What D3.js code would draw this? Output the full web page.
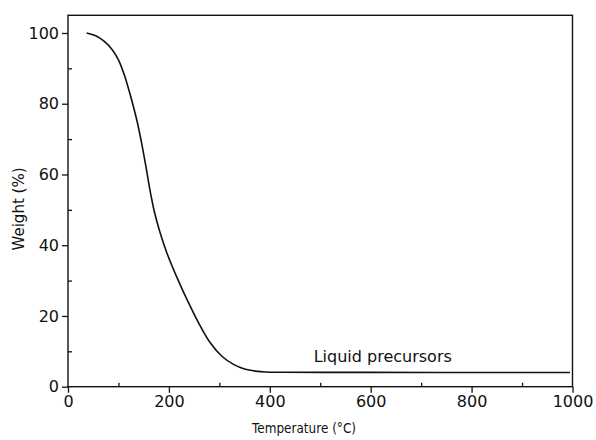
<!DOCTYPE html>
<html>
<head>
<meta charset="utf-8">
<script src="https://cdn.jsdelivr.net/npm/d3@7"></script>
<style>
  html, body { margin: 0; padding: 0; background: #fff; }
  svg { display: block; }
  text { font-family: "DejaVu Sans", sans-serif; fill: #111; }
</style>
</head>
<body>
<svg id="chart" width="596" height="440"></svg>
<script>
// Data (TGA curve)
const temperatures = [37, 55, 72, 88, 100, 112, 124, 136, 146, 155, 163, 171, 182, 196, 215, 240, 262, 282, 305, 328, 350, 372, 392, 430, 500, 600, 800, 995];
const weights      = [100, 99.2, 97.6, 95.2, 92.4, 88.0, 82.2, 75.6, 68.8, 61.8, 55.2, 49.6, 43.8, 37.8, 31.2, 23.4, 17.2, 12.4, 8.6, 6.3, 5.0, 4.4, 4.15, 4.1, 4.05, 4.05, 4.0, 4.0];
const xMajorTicks = [0, 200, 400, 600, 800, 1000];
const xMinorTicks = [100, 300, 500, 700, 900];
const yMajorTicks = [0, 20, 40, 60, 80, 100];
const yMinorTicks = [10, 30, 50, 70, 90];
const xLabel = "Temperature (\u00B0C)";
const yLabel = "Weight (%)";
const seriesLabel = "Liquid precursors";

const svg = d3.select("#chart");
const pLeft = 68, pRight = 572.5, pTop = 15.3, pBottom = 386.7;

const x = d3.scaleLinear().domain([0, 1000]).range([pLeft, pRight]);
const y = d3.scaleLinear().domain([0, 105]).range([pBottom, pTop]);

// frame
svg.append("rect")
  .attr("x", pLeft).attr("y", pTop)
  .attr("width", pRight - pLeft).attr("height", pBottom - pTop)
  .attr("fill", "none").attr("stroke", "#111").attr("stroke-width", 1.4);

// x axis major (outward)
const gx = svg.append("g").attr("transform", `translate(0,${pBottom})`)
  .call(d3.axisBottom(x).tickValues(xMajorTicks).tickSize(6).tickPadding(3).tickFormat(d3.format("d")));
gx.select(".domain").remove();
gx.selectAll("line").attr("stroke", "#111").attr("stroke-width", 1.3);
gx.selectAll("text").style("font-size", "16px").attr("fill", "#111");

// x axis minor (inward)
const gxm = svg.append("g").attr("transform", `translate(0,${pBottom})`)
  .call(d3.axisTop(x).tickValues(xMinorTicks).tickSize(4).tickFormat(""));
gxm.select(".domain").remove();
gxm.selectAll("line").attr("stroke", "#111").attr("stroke-width", 1.3);

// y axis major (outward)
const gy = svg.append("g").attr("transform", `translate(${pLeft},0)`)
  .call(d3.axisLeft(y).tickValues(yMajorTicks).tickSize(6).tickPadding(3).tickFormat(d3.format("d")));
gy.select(".domain").remove();
gy.selectAll("line").attr("stroke", "#111").attr("stroke-width", 1.3);
gy.selectAll("text").style("font-size", "16px").attr("fill", "#111");

// y axis minor (inward)
const gym = svg.append("g").attr("transform", `translate(${pLeft},0)`)
  .call(d3.axisRight(y).tickValues(yMinorTicks).tickSize(4).tickFormat(""));
gym.select(".domain").remove();
gym.selectAll("line").attr("stroke", "#111").attr("stroke-width", 1.3);

// curve
const pts = temperatures.map((t, i) => [t, weights[i]]);
const line = d3.line().x(d => x(d[0])).y(d => y(d[1])).curve(d3.curveCatmullRom.alpha(0.5));
svg.append("path").datum(pts)
  .attr("d", line)
  .attr("fill", "none").attr("stroke", "#111").attr("stroke-width", 1.6);

// series label
svg.append("text")
  .attr("x", x(487)).attr("y", y(7.1))
  .style("font-size", "16px")
  .text(seriesLabel);

// axis labels
svg.append("text")
  .attr("x", 304).attr("y", 433)
  .attr("text-anchor", "middle")
  .attr("textLength", 104)
  .attr("lengthAdjust", "spacingAndGlyphs")
  .style("font-size", "14px")
  .text(xLabel);

svg.append("text")
  .attr("transform", "translate(24,209) rotate(-90)")
  .attr("text-anchor", "middle")
  .style("font-size", "15px")
  .text(yLabel);
</script>
</body>
</html>
